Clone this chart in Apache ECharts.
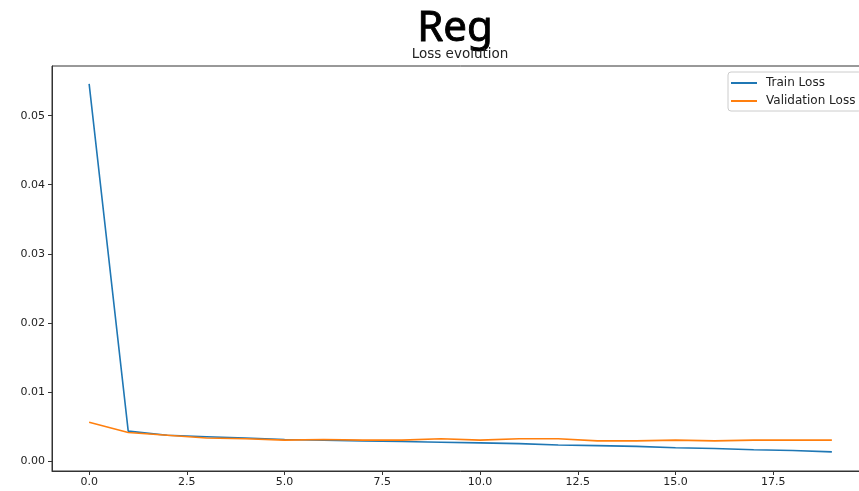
<!DOCTYPE html>
<html>
<head>
<meta charset="utf-8">
<script src="https://cdn.jsdelivr.net/npm/echarts@6/dist/echarts.min.js"></script>
<style>
html,body{margin:0;padding:0;background:#fff;overflow:hidden;}
#chart{width:869px;height:491px;}
</style>
</head>
<body>
<div id="chart"></div>
<script>
const epochs = [0,1,2,3,4,5,6,7,8,9,10,11,12,13,14,15,16,17,18,19];
const trainLoss = [0.0546,0.0043,0.0037,0.0035,0.0033,0.0031,0.0030,0.0029,0.0028,0.0027,0.0026,0.0025,0.0023,0.0022,0.0021,0.0019,0.0018,0.0016,0.0015,0.0013];
const valLoss = [0.0056,0.0041,0.0037,0.0033,0.0032,0.0030,0.0031,0.0030,0.0030,0.0032,0.0030,0.0032,0.0032,0.0029,0.0029,0.0030,0.0029,0.0030,0.0030,0.0030];
const xTicks = [0,2.5,5,7.5,10,12.5,15,17.5];
const yTicks = [0,0.01,0.02,0.03,0.04,0.05];

const chart = echarts.init(document.getElementById('chart'), null, {renderer:'canvas'});
const font = 'DejaVu Sans';
chart.setOption({
  animation:false,
  backgroundColor:'#fff',
  title:[
    {text:'Reg', left:455, top:3, textAlign:'center',
     textStyle:{fontFamily:'Noto Sans', fontSize:42, fontWeight:'normal', color:'#000', lineHeight:52,
                textBorderColor:'#000', textBorderWidth:0.9}, padding:0},
    {text:'Loss evolution', left:460, top:46, textAlign:'center',
     textStyle:{fontFamily:font, fontSize:13.5, fontWeight:'normal', color:'#222', lineHeight:16}, padding:0}
  ],
  legend:{
    orient:'vertical', left:728, top:72,
    padding:[4,6,3,3], itemGap:4,
    backgroundColor:'#fff', borderColor:'#ccc', borderWidth:1, borderRadius:3,
    icon:'rect', itemWidth:26, itemHeight:2,
    textStyle:{fontFamily:font, fontSize:12, color:'#222', lineHeight:14, padding:[0,0,0,4]},
    data:['Train Loss','Validation Loss']
  },
  grid:{left:52, top:66, right:0, bottom:20, show:true, borderColor:'#333', borderWidth:1, backgroundColor:'transparent'},
  xAxis:{
    type:'value', min:-0.95, max:19.95,
    axisLine:{show:true, onZero:false, lineStyle:{color:'#333', width:1}},
    axisTick:{show:true, inside:false, length:4, lineStyle:{color:'#333'}, customValues:xTicks},
    axisLabel:{customValues:xTicks, formatter:v=>v.toFixed(1), fontFamily:font, fontSize:11, color:'#222', margin:6},
    splitLine:{show:false}
  },
  yAxis:{
    type:'value', min:-0.00147, max:0.0572,
    axisLine:{show:true, onZero:false, lineStyle:{color:'#333', width:1}},
    axisTick:{show:true, inside:false, length:4, lineStyle:{color:'#333'}, customValues:yTicks},
    axisLabel:{customValues:yTicks, formatter:v=>v.toFixed(2), fontFamily:font, fontSize:11, color:'#222', margin:7},
    splitLine:{show:false}
  },
  series:[
    {name:'Train Loss', type:'line', data:epochs.map((e,i)=>[e,trainLoss[i]]), showSymbol:false, symbol:'none',
     lineStyle:{color:'#1f77b4', width:1.6}, itemStyle:{color:'#1f77b4'}},
    {name:'Validation Loss', type:'line', data:epochs.map((e,i)=>[e,valLoss[i]]), showSymbol:false, symbol:'none',
     lineStyle:{color:'#ff7f0e', width:1.6}, itemStyle:{color:'#ff7f0e'}}
  ]
});
</script>
</body>
</html>
